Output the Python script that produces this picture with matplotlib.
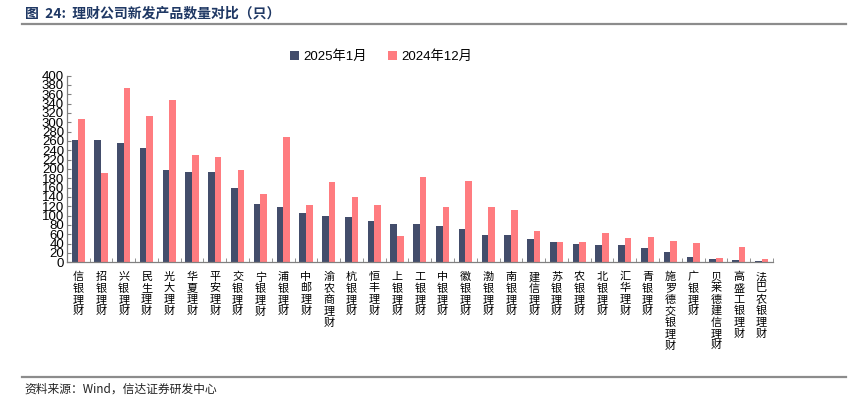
import numpy as np
import matplotlib
matplotlib.use("Agg")
import matplotlib.pyplot as plt
from matplotlib.ticker import MultipleLocator, FixedLocator

plt.rcParams['font.family'] = ['Noto Sans CJK SC', 'DejaVu Sans']

#### data ####
companies = ["信银理财", "招银理财", "兴银理财", "民生理财", "光大理财", "华夏理财",
             "平安理财", "交银理财", "宁银理财", "浦银理财", "中邮理财", "渝农商理财",
             "杭银理财", "恒丰理财", "上银理财", "工银理财", "中银理财", "徽银理财",
             "渤银理财", "南银理财", "建信理财", "苏银理财", "农银理财", "北银理财",
             "汇华理财", "青银理财", "施罗德交银理财", "广银理财", "贝莱德建信理财",
             "高盛工银理财", "法巴农银理财"]
jan_2025 = [262, 262, 255, 245, 198, 194, 194, 159, 125, 118, 105, 100,
            96, 88, 83, 81, 78, 71, 59, 59, 50, 43, 39, 37,
            37, 31, 21, 12, 6, 5, 3]
dec_2024 = [306, 192, 373, 313, 348, 230, 226, 198, 146, 268, 122, 172,
            140, 122, 56, 182, 119, 174, 118, 112, 66, 44, 43, 62,
            51, 54, 45, 41, 9, 33, 6]
legend = ["2025年1月", "2024年12月"]

DARK = "#434D6B"
PINK = "#FF7C80"

fig = plt.figure(figsize=(8.48, 3.98), dpi=100)
ax = fig.add_axes([0.0787, 0.341, 0.8328, 0.469])

x = np.arange(len(companies))
width = 0.29
ax.bar(x - width / 2, jan_2025, width, color=DARK, label=legend[0])
ax.bar(x + width / 2, dec_2024, width, color=PINK, label=legend[1])

ax.set_xlim(-0.5, len(companies) - 0.5)
ax.set_ylim(0, 400)
ax.yaxis.set_major_locator(MultipleLocator(20))

for side in ["top", "right"]:
    ax.spines[side].set_visible(False)
for side in ["left", "bottom"]:
    ax.spines[side].set_color("#808080")
    ax.spines[side].set_linewidth(0.9)

ax.tick_params(axis="y", direction="in", length=3, color="#808080", pad=2,
               labelsize=9.5)
for lab in ax.get_yticklabels():
    lab.set_family(["Liberation Sans", "DejaVu Sans"])

# category labels stacked vertically, ticks at group boundaries
ax.set_xticks(x)
ax.set_xticklabels(["\n".join(name) for name in companies], fontsize=8,
                   linespacing=1.15, va="top")
ax.tick_params(axis="x", which="major", length=0, pad=7)
ax.xaxis.set_minor_locator(FixedLocator(np.arange(len(companies) + 1) - 0.5))
ax.tick_params(axis="x", which="minor", direction="in", length=3, color="#808080")

ax.legend(loc="center", bbox_to_anchor=(0.445, 1.1), ncol=2, frameon=False,
          prop={"family": ["Liberation Sans", "Noto Sans CJK SC"], "size": 9.5},
          handlelength=0.7, handleheight=0.7, handletextpad=0.3, columnspacing=1.6)

# title, rules and source note
fig.text(0.029, 0.967, "图  24:  理财公司新发产品数量对比（只）", fontsize=10,
         fontweight="bold", color="#1F3864", va="center")
fig.add_artist(plt.Line2D([0.026, 0.998], [0.94, 0.94], color="#8C8C8C", lw=1.6))
fig.add_artist(plt.Line2D([0.026, 0.998], [0.054, 0.054], color="#8C8C8C", lw=1.6))
fig.text(0.029, 0.022, "资料来源：Wind，信达证券研发中心", fontsize=8.5,
         style="italic", color="#222222", va="center")

fig.savefig("out.png", dpi=100)
